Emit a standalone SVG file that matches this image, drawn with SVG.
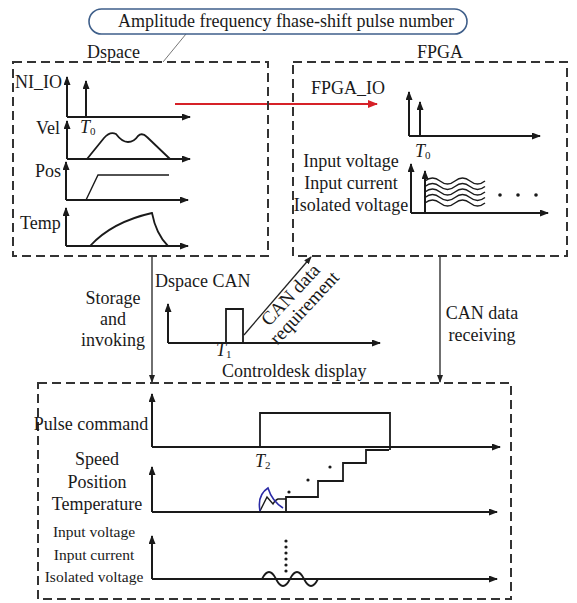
<svg xmlns="http://www.w3.org/2000/svg" width="577" height="603" viewBox="0 0 577 603">
<defs>
<style>
text{font-family:"Liberation Serif","Times New Roman",serif;font-size:18px;fill:#1a1a1a}
.sm{font-size:15.5px}
.it{font-style:italic}
.sub{font-size:11px;font-style:normal}
.box{fill:none;stroke:#333;stroke-width:2;stroke-dasharray:9,5}
.ax{fill:none;stroke:#1a1a1a;stroke-width:2;marker-end:url(#ah)}
.sig{fill:none;stroke:#1a1a1a;stroke-width:1.8}
.thin{fill:none;stroke:#1a1a1a;stroke-width:1.4}
.con{fill:none;stroke:#222;stroke-width:1.3;marker-end:url(#ah2)}
</style>
<marker id="ah" markerWidth="9" markerHeight="7" refX="8" refY="3.5" orient="auto" markerUnits="userSpaceOnUse"><path d="M0,0 L9,3.5 L0,7 z" fill="#1a1a1a"/></marker>
<marker id="ah2" markerWidth="8" markerHeight="6" refX="7" refY="3" orient="auto" markerUnits="userSpaceOnUse"><path d="M0,0 L8,3 L0,6 z" fill="#222"/></marker>
<marker id="ahr" markerWidth="10" markerHeight="8" refX="9" refY="4" orient="auto" markerUnits="userSpaceOnUse"><path d="M0,0 L10,4 L0,8 z" fill="#d62128"/></marker>
</defs>
<rect width="577" height="603" fill="#fff"/>

<g id="connectors">
<line x1="186" y1="34" x2="163" y2="62" stroke="#777" stroke-width="1"/>
<line x1="175" y1="104" x2="377" y2="104" stroke="#d62128" stroke-width="2" marker-end="url(#ahr)"/>
<line x1="152" y1="256" x2="152" y2="382" class="con"/>
<line x1="440" y1="256" x2="440" y2="382" class="con"/>
<line x1="244" y1="335" x2="311" y2="257" class="con" stroke="#555" stroke-width="1"/>
</g>

<g id="callout">
<rect x="89" y="9" width="378" height="25" rx="12.5" fill="#fff" stroke="#3f5f8a" stroke-width="1.6"/>
<text x="286" y="27" text-anchor="middle">Amplitude frequency fhase-shift pulse number</text>
</g>

<g id="dspace">
<text x="87" y="58">Dspace</text>
<rect x="13" y="62" width="255" height="194" class="box"/>
<text x="15" y="88">NI_IO</text>
<line x1="67" y1="117" x2="67" y2="77" class="ax"/>
<line x1="67" y1="117" x2="190" y2="117" class="ax"/>
<line x1="86" y1="117" x2="86" y2="81" class="ax"/>
<text x="80" y="133" class="it">T<tspan class="sub" dy="2">0</tspan></text>
<text x="36" y="134">Vel</text>
<line x1="67" y1="159" x2="67" y2="121" class="ax"/>
<line x1="67" y1="159" x2="190" y2="159" class="ax"/>
<path class="sig" d="M87,159 L104,138 Q110,131 116,134 Q122,142 128,142 Q134,142 138,136 Q142,132 147,137 L170,159"/>
<text x="35" y="177">Pos</text>
<line x1="66" y1="200" x2="66" y2="162" class="ax"/>
<line x1="66" y1="200" x2="188" y2="200" class="ax"/>
<path class="thin" d="M86,200 L98,175 L169,175"/>
<text x="20" y="229">Temp</text>
<line x1="66" y1="246" x2="66" y2="208" class="ax"/>
<line x1="66" y1="246" x2="188" y2="246" class="ax"/>
<path class="sig" d="M90,246 Q112,222 152,213 Q156,234 168,246"/>
</g>

<g id="fpga">
<text x="417" y="58">FPGA</text>
<rect x="293" y="62" width="274" height="194" class="box"/>
<text x="311" y="94">FPGA_IO</text>
<line x1="409" y1="136" x2="409" y2="92" class="ax"/>
<line x1="409" y1="136" x2="540" y2="136" class="ax"/>
<line x1="420" y1="136" x2="420" y2="102" class="ax"/>
<text x="415" y="157" class="it">T<tspan class="sub" dy="2">0</tspan></text>
<text x="351" y="167" text-anchor="middle">Input voltage</text>
<text x="351" y="189" text-anchor="middle">Input current</text>
<text x="351" y="211" text-anchor="middle">Isolated voltage</text>
<line x1="411" y1="213" x2="411" y2="164" class="ax"/>
<line x1="411" y1="213" x2="548" y2="213" class="ax"/>
<line x1="425" y1="213" x2="425" y2="171" class="ax"/>
<g class="thin">
<path d="M425,181 q7.5,-6 15,0 t15,0 t15,0 t15,0"/>
<path d="M425,186.5 q7.5,-6 15,0 t15,0 t15,0 t15,0"/>
<path d="M425,192 q7.5,-6 15,0 t15,0 t15,0 t15,0"/>
<path d="M425,197.5 q7.5,-6 15,0 t15,0 t15,0 t15,0"/>
<path d="M425,203 q7.5,-6 15,0 t15,0 t15,0 t15,0"/>
</g>
<circle cx="500" cy="195" r="1.8" fill="#1a1a1a"/>
<circle cx="518" cy="195" r="1.8" fill="#1a1a1a"/>
<circle cx="536" cy="195" r="1.8" fill="#1a1a1a"/>
</g>

<g id="storage-label">
<text x="113" y="304" text-anchor="middle">Storage</text>
<text x="113" y="325" text-anchor="middle">and</text>
<text x="113" y="346" text-anchor="middle">invoking</text>
</g>

<g id="dspace-can">
<text x="155" y="287">Dspace CAN</text>
<line x1="168" y1="343" x2="168" y2="304" class="ax"/>
<line x1="168" y1="343" x2="380" y2="343" class="ax"/>
<path class="sig" d="M226,343 V309 H243 V343"/>
<text x="216" y="356" class="it">T<tspan class="sub" dy="2">1</tspan></text>
</g>

<g id="can-requirement-label">
<text transform="translate(295,299) rotate(-47)" text-anchor="middle" style="font-size:19px"><tspan x="0" y="0">CAN data</tspan><tspan x="0" y="19">requirement</tspan></text>
</g>

<g id="can-receiving-label">
<text x="482" y="319" text-anchor="middle">CAN data</text>
<text x="482" y="341" text-anchor="middle">receiving</text>
</g>

<g id="controldesk">
<text x="222" y="377">Controldesk display</text>
<rect x="38" y="383" width="473" height="216" class="box"/>
<text x="91" y="430" text-anchor="middle">Pulse command</text>
<line x1="152" y1="447" x2="152" y2="394" class="ax"/>
<line x1="152" y1="447" x2="500" y2="447" class="ax"/>
<path class="sig" d="M260,447 V413 H390 V450"/>
<text x="255" y="467" class="it">T<tspan class="sub" dy="2">2</tspan></text>
<text x="97" y="465" text-anchor="middle">Speed</text>
<text x="97" y="488" text-anchor="middle">Position</text>
<text x="97" y="510" text-anchor="middle">Temperature</text>
<line x1="152" y1="512" x2="152" y2="467" class="ax"/>
<line x1="152" y1="512" x2="497" y2="512" class="ax"/>
<path class="sig" d="M286,512 V497 H318 V481 H343 V463 H366 V450 H389"/>
<path class="thin" d="M260,511 L267,497 L273,504 Q275,500 278,499 L286,499"/>
<path fill="none" stroke="#2b2ba6" stroke-width="1.6" d="M260,511 Q257,495 268,488 Q272,501 283,508"/>
<circle cx="289" cy="492" r="1.6" fill="#1a1a1a"/>
<circle cx="308" cy="480" r="1.6" fill="#1a1a1a"/>
<circle cx="330" cy="467" r="1.6" fill="#1a1a1a"/>
<text x="94" y="537" text-anchor="middle" class="sm">Input voltage</text>
<text x="94" y="560" text-anchor="middle" class="sm">Input current</text>
<text x="94" y="582" text-anchor="middle" class="sm">Isolated voltage</text>
<line x1="152" y1="579" x2="152" y2="536" class="ax"/>
<line x1="152" y1="579" x2="497" y2="579" class="ax"/>
<g fill="#1a1a1a">
<circle cx="286" cy="541" r="1.6"/><circle cx="286" cy="547" r="1.6"/><circle cx="286" cy="553" r="1.6"/>
<circle cx="286" cy="559" r="1.6"/><circle cx="286" cy="565" r="1.6"/><circle cx="286" cy="571" r="1.6"/>
</g>
<path class="sig" d="M262,579 q7,-14 14,0 t14,0 t14,0 t14,0"/>
</g>
</svg>
